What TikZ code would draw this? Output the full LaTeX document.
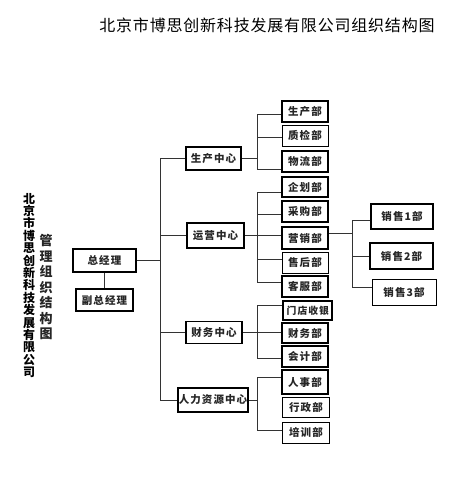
\documentclass[tikz,border=0pt]{standalone}
\usepackage{fontspec}
\newfontfamily\cjk{Noto Sans CJK SC}
\newfontfamily\cjksp{Noto Sans CJK SC}[LetterSpace=10]
\newfontfamily\cjkt{Noto Sans CJK SC}[LetterSpace=5]
\begin{document}
\begin{tikzpicture}[x=1pt,y=-1pt,
  every node/.style={inner sep=0pt},
  bx/.style={draw=black, fill=white, line width=0.8pt, font=\cjksp\bfseries\fontsize{10.5}{12}\selectfont, text=black!85},
  bxk/.style={bx, line width=1.5pt},
  dp/.style={minimum width=46pt, minimum height=21pt},
  ln/.style={draw=black!80, line width=0.9pt}]
\useasboundingbox[fill=white] (0,0) rectangle (467,484);
\node[font=\cjkt\fontsize{16}{18}\selectfont] (title) at (267,25) {北京市博思创新科技发展有限公司组织结构图};
\node[font=\cjk\bfseries\fontsize{12}{12.4}\selectfont, align=center] (vt1) at (29,285.5) {北\\京\\市\\博\\思\\创\\新\\科\\技\\发\\展\\有\\限\\公\\司};
\node[font=\cjk\bfseries\fontsize{13}{15.5}\selectfont, align=center, text=black!85] (vt2) at (46,287) {管\\理\\组\\织\\结\\构\\图};

\node[bxk, minimum width=63pt, minimum height=23pt] (zjl) at (104.5,260.5) {总经理};
\node[bxk, minimum width=57pt, minimum height=22pt] (fzjl) at (104.5,300) {副总经理};
\node[bxk, minimum width=55pt, minimum height=23pt] (c1) at (213.5,158.5) {生产中心};
\node[bxk, minimum width=57pt, minimum height=25pt] (c2) at (215.5,235.5) {运营中心};
\node[bxk, minimum width=56pt, minimum height=22pt] (c3) at (214,332.5) {财务中心};
\node[bxk, minimum width=70pt, minimum height=24pt] (c4) at (213,400) {人力资源中心};

\node[bx, dp, line width=1.1pt] (d1) at (305,111.5) {生产部};
\node[bx, dp] (d2) at (305,135.5) {质检部};
\node[bxk, dp] (d3) at (305,161.5) {物流部};
\node[bxk, dp, minimum height=20pt] (d4) at (305,187) {企划部};
\node[bxk, dp] (d5) at (305,211.5) {采购部};
\node[bxk, dp, minimum height=22pt] (d6) at (305,238) {营销部};
\node[bx, dp] (d7) at (305,262.5) {售后部};
\node[bxk, dp] (d8) at (305,286.5) {客服部};
\node[bxk, dp, minimum width=49pt, minimum height=19pt, font=\cjksp\bfseries\fontsize{9.8}{12}\selectfont] (d9) at (307.5,310.5) {\hspace{0.6pt}门店收银};
\node[bxk, dp, minimum height=20pt] (d10) at (305,333) {财务部};
\node[bxk, dp] (d11) at (305,356.5) {会计部};
\node[bxk, dp, minimum height=24pt] (d12) at (305,382) {人事部};
\node[bx, dp, minimum width=47pt, minimum height=20pt] (d13) at (306,407.5) {行政部};
\node[bx, dp, minimum width=47pt] (d14) at (306,432.5) {培训部};

\node[bxk, minimum width=62pt, minimum height=25pt] (s1) at (402,216.5) {销售1部};
\node[bxk, minimum width=63pt, minimum height=26pt] (s2) at (401.5,256) {销售2部};
\node[bx, minimum width=64pt, minimum height=26pt] (s3) at (404,292) {销售3部};

\coordinate (mx) at (160,0);
\coordinate (jx) at (257,0);
\coordinate (sx) at (352,0);

\draw[ln] (zjl) -- (fzjl);
\draw[ln] (zjl.east) -- (zjl.east -| mx);
\draw[ln] (c1.west) -- (c1.west -| mx) -- (c4.west -| mx) -- (c4.west);
\draw[ln] (c2.west -| mx) -- (c2.west);
\draw[ln] (c3.west -| mx) -- (c3.west);

\coordinate (b1) at ([yshift=-2.5pt]d1.west);
\coordinate (b2) at ([yshift=-1.5pt]d2.west);
\coordinate (b3) at ([yshift=-7.5pt]d3.west);
\draw[ln] (c1.east) -- (c1.east -| jx);
\draw[ln] (b1) -| (jx |- b3) -- (b3);
\draw[ln] (jx |- b2) -- (b2);

\coordinate (b4) at ([yshift=-5pt]d4.west);
\coordinate (b5) at ([yshift=-2.5pt]d5.west);
\coordinate (b7) at ([yshift=3.5pt]d7.west);
\coordinate (b8) at ([yshift=4.5pt]d8.west);
\draw[ln] (b4) -| (jx |- b8) -- (b8);
\draw[ln] (jx |- b5) -- (b5);
\draw[ln] (jx |- b7) -- (b7);
\draw[ln] (c2.east) -- (c2.east -| d6.west);

\coordinate (b9) at ([yshift=5.5pt]d9.west);
\coordinate (b11) at ([yshift=-1.5pt]d11.west);
\draw[ln] (b9) -| (jx |- b11) -- (b11);
\draw[ln] (c3.east) -- (c3.east -| d10.west);

\coordinate (b12) at ([yshift=5pt]d12.west);
\coordinate (b14) at ([yshift=2.5pt]d14.west);
\draw[ln] (b12) -| (jx |- b14) -- (b14);
\draw[ln] (c4.east) -- (c4.east -| jx);

\coordinate (m6) at ([yshift=5pt]d6.east);
\coordinate (t1) at ([yshift=-3.5pt]s1.west);
\coordinate (t3) at ([yshift=5pt]s3.west);
\draw[ln] (m6) -- (m6 -| sx);
\draw[ln] (t1) -| (sx |- t3) -- (t3);
\draw[ln] (sx |- s2.west) -- (s2.west);
\end{tikzpicture}
\end{document}
